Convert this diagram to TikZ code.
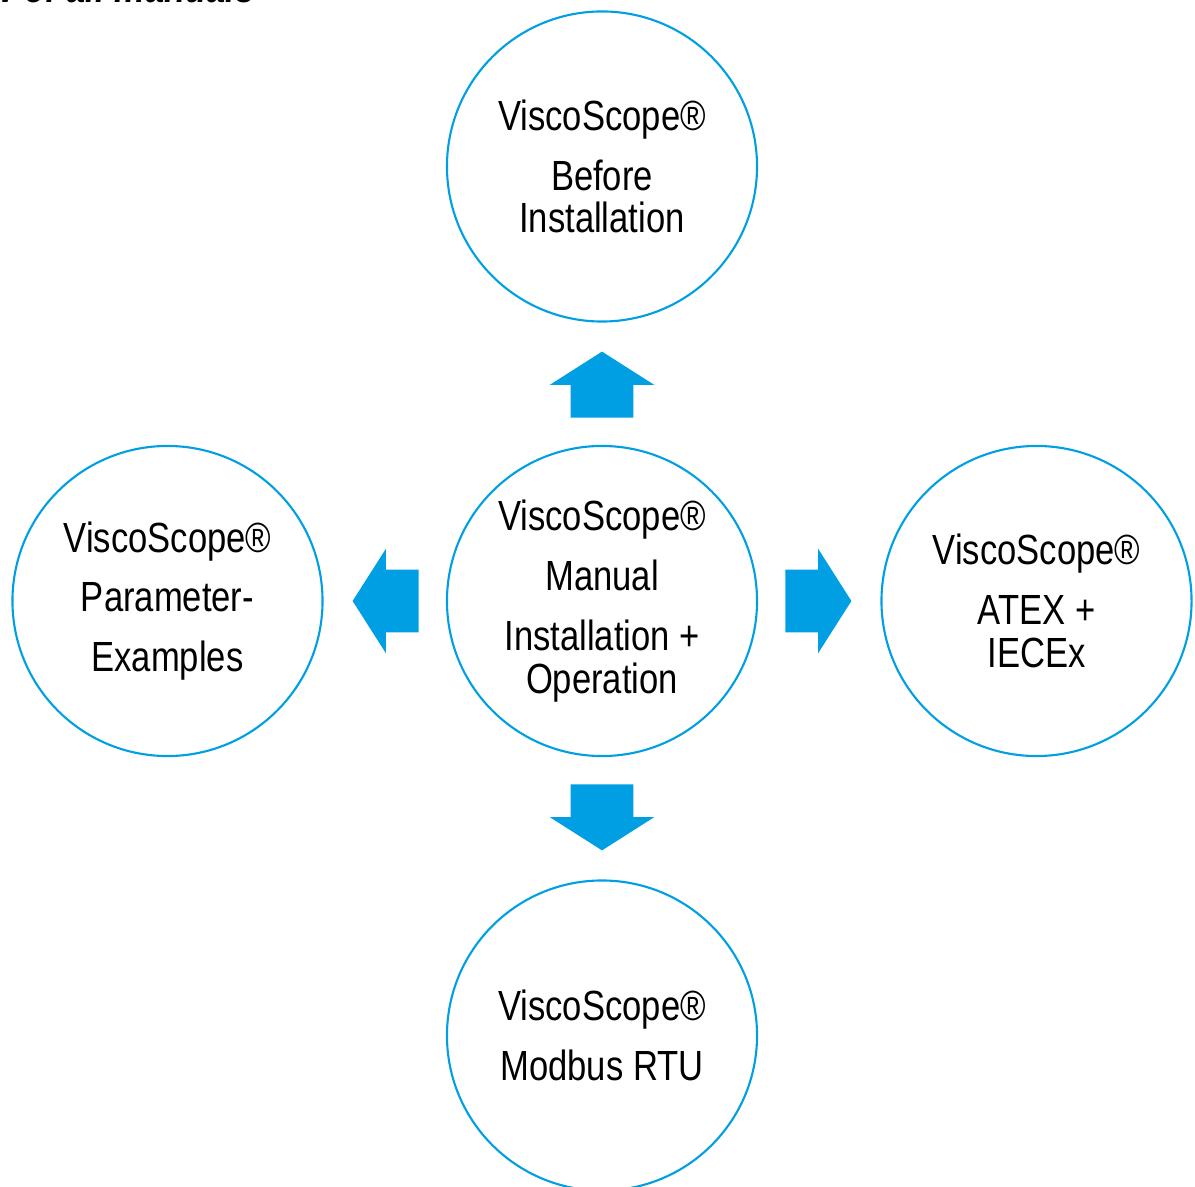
\documentclass[tikz,border=0pt]{standalone}
\usepackage{fontspec}
\setmainfont{Liberation Sans}[FakeStretch=0.82]
\usetikzlibrary{shapes.arrows, calc}
\definecolor{vsblue}{HTML}{009FE3}
\tikzstyle{manual} = [circle, draw=vsblue, line width=1.5pt, minimum size=7.75cm, inner sep=0pt, align=center, font=\fontsize{30}{30.5}\selectfont]
\tikzstyle{bigarrow} = [single arrow, fill=vsblue, draw=none, anchor=tail, inner xsep=0pt, inner ysep=0.775cm, minimum height=1.65cm, single arrow head extend=0.525cm, single arrow tip angle=115]
\tikzstyle{heading} = [inner sep=0pt, font=\fontsize{30}{30}\selectfont\bfseries\itshape]

\begin{document}
\begin{tikzpicture}[x=0.025cm, y=-0.025cm, node distance=10.86cm]
    \useasboundingbox (0,0) rectangle (1195,1187);
    \node [heading, anchor=base east]							(title)		at (255,3) {Overview of all manuals};

    \node [manual]												(main)		at (602,601) {ViscoScope®\\[12pt] Manual\\[12pt] Installation +\\ Operation};
    \node [manual, above of=main]								(before)	{ViscoScope®\\[12pt] Before\\ Installation};
    \node [manual, left of=main]								(params)	{ViscoScope®\\[12pt] Parameter-\\[12pt] Examples};
    \node [manual, right of=main]								(atex)		{ViscoScope®\\[12pt] ATEX +\\ IECEx};
    \node [manual, below of=main]								(modbus)	{ViscoScope®\\[12pt] Modbus RTU};

    \node [bigarrow, rotate=90]		(toBefore)	at ($(main.north)+(0,-27)$) {};
    \node [bigarrow, rotate=180]	(toParams)	at ($(main.west)+(-27,0)$) {};
    \node [bigarrow]				(toAtex)	at ($(main.east)+(27,0)$) {};
    \node [bigarrow, rotate=-90]	(toModbus)	at ($(main.south)+(0,27)$) {};
\end{tikzpicture}
\end{document}
